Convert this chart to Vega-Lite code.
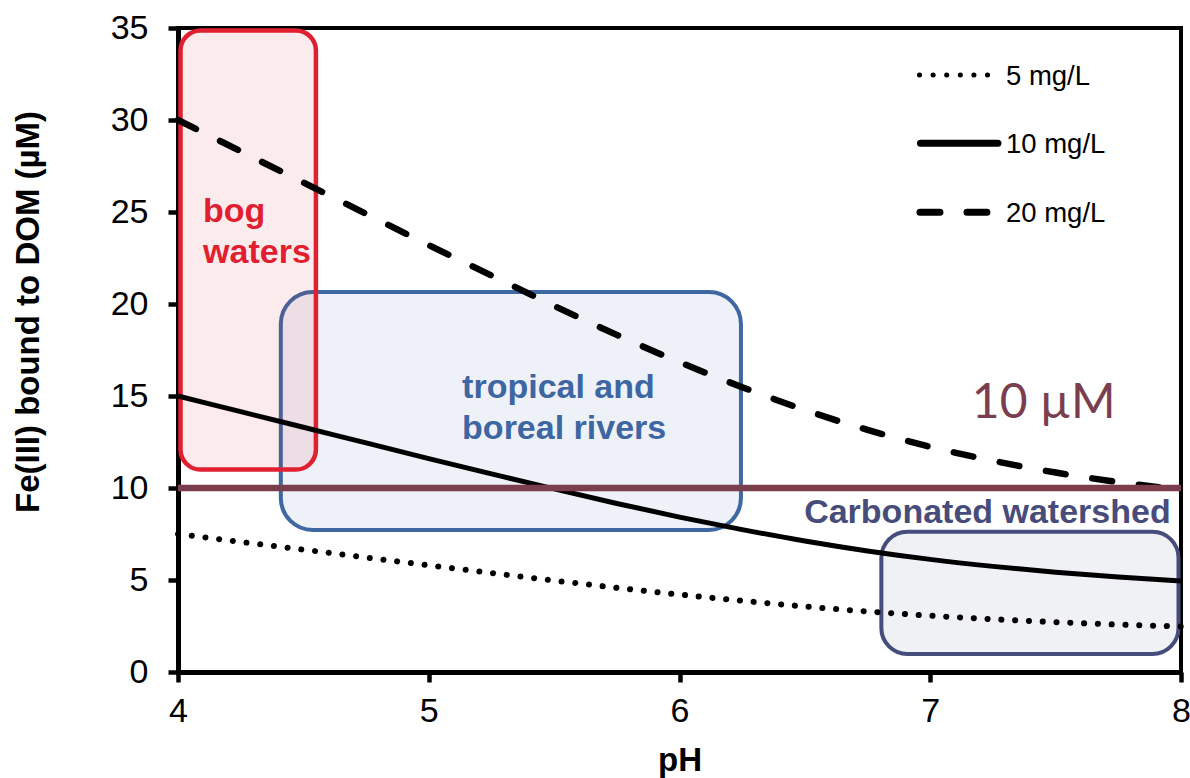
{
  "$schema": "https://vega.github.io/schema/vega-lite/v6.json",
  "width": 1003,
  "height": 644,
  "autosize": {"type": "none"},
  "padding": {"left": 178, "top": 28, "right": 9, "bottom": 106},
  "background": "white",
  "config": {
    "view": {"stroke": "black", "strokeWidth": 4},
    "axis": {
      "domainColor": "black", "domainWidth": 5, "tickColor": "black", "tickWidth": 4.5, "tickSize": 10,
      "grid": false, "labelFont": "Liberation Sans", "labelFontSize": 34, "labelColor": "black",
      "labelFlush": false, "labelOverlap": false, "titleFont": "Liberation Sans", "titleFontSize": 33,
      "titleFontWeight": "bold", "titleColor": "black"
    }
  },
  "datasets": {
    "boxes": [
      {"region": "bog", "x": 4.01, "x2": 4.55, "y": 34.86, "y2": 11.0},
      {"region": "tropical", "x": 4.41, "x2": 6.245, "y": 20.65, "y2": 7.72},
      {"region": "carbonated", "x": 6.805, "x2": 7.99, "y": 7.62, "y2": 0.98}
    ],
    "curves": [
      {"series": "5 mg/L", "x": 4.0, "y": 7.5},
      {"series": "5 mg/L", "x": 4.25, "y": 7.07},
      {"series": "5 mg/L", "x": 4.5, "y": 6.65},
      {"series": "5 mg/L", "x": 4.75, "y": 6.22},
      {"series": "5 mg/L", "x": 5.0, "y": 5.8},
      {"series": "5 mg/L", "x": 5.25, "y": 5.38},
      {"series": "5 mg/L", "x": 5.5, "y": 4.97},
      {"series": "5 mg/L", "x": 5.75, "y": 4.58},
      {"series": "5 mg/L", "x": 6.0, "y": 4.21},
      {"series": "5 mg/L", "x": 6.25, "y": 3.87},
      {"series": "5 mg/L", "x": 6.5, "y": 3.56},
      {"series": "5 mg/L", "x": 6.75, "y": 3.29},
      {"series": "5 mg/L", "x": 7.0, "y": 3.06},
      {"series": "5 mg/L", "x": 7.25, "y": 2.87},
      {"series": "5 mg/L", "x": 7.5, "y": 2.71},
      {"series": "5 mg/L", "x": 7.75, "y": 2.58},
      {"series": "5 mg/L", "x": 8.0, "y": 2.47},
      {"series": "10 mg/L", "x": 4.0, "y": 15.0},
      {"series": "10 mg/L", "x": 4.25, "y": 14.15},
      {"series": "10 mg/L", "x": 4.5, "y": 13.3},
      {"series": "10 mg/L", "x": 4.75, "y": 12.45},
      {"series": "10 mg/L", "x": 5.0, "y": 11.6},
      {"series": "10 mg/L", "x": 5.25, "y": 10.77},
      {"series": "10 mg/L", "x": 5.5, "y": 9.95},
      {"series": "10 mg/L", "x": 5.75, "y": 9.16},
      {"series": "10 mg/L", "x": 6.0, "y": 8.42},
      {"series": "10 mg/L", "x": 6.25, "y": 7.74},
      {"series": "10 mg/L", "x": 6.5, "y": 7.12},
      {"series": "10 mg/L", "x": 6.75, "y": 6.58},
      {"series": "10 mg/L", "x": 7.0, "y": 6.12},
      {"series": "10 mg/L", "x": 7.25, "y": 5.74},
      {"series": "10 mg/L", "x": 7.5, "y": 5.42},
      {"series": "10 mg/L", "x": 7.75, "y": 5.16},
      {"series": "10 mg/L", "x": 8.0, "y": 4.95},
      {"series": "20 mg/L", "x": 4.0, "y": 30.0},
      {"series": "20 mg/L", "x": 4.25, "y": 28.3},
      {"series": "20 mg/L", "x": 4.5, "y": 26.6},
      {"series": "20 mg/L", "x": 4.75, "y": 24.9},
      {"series": "20 mg/L", "x": 5.0, "y": 23.2},
      {"series": "20 mg/L", "x": 5.25, "y": 21.55},
      {"series": "20 mg/L", "x": 5.5, "y": 19.9},
      {"series": "20 mg/L", "x": 5.75, "y": 18.32},
      {"series": "20 mg/L", "x": 6.0, "y": 16.84},
      {"series": "20 mg/L", "x": 6.25, "y": 15.48},
      {"series": "20 mg/L", "x": 6.5, "y": 14.24},
      {"series": "20 mg/L", "x": 6.75, "y": 13.16},
      {"series": "20 mg/L", "x": 7.0, "y": 12.24},
      {"series": "20 mg/L", "x": 7.25, "y": 11.48},
      {"series": "20 mg/L", "x": 7.5, "y": 10.84},
      {"series": "20 mg/L", "x": 7.75, "y": 10.32},
      {"series": "20 mg/L", "x": 8.0, "y": 9.9}
    ],
    "legend": [
      {"series": "5 mg/L", "x": 6.957, "x2": 7.229, "y": 32.45, "lx": 7.302, "ly": 31.9},
      {"series": "10 mg/L", "x": 6.961, "x2": 7.27, "y": 28.73, "lx": 7.302, "ly": 28.19},
      {"series": "20 mg/L", "x": 6.959, "x2": 7.226, "y": 24.98, "lx": 7.302, "ly": 24.47}
    ]
  },
  "encoding": {
    "x": {
      "field": "x", "type": "quantitative", "title": "pH",
      "scale": {"domain": [4, 8], "nice": false, "zero": false},
      "axis": {"values": [4, 5, 6, 7, 8], "labelPadding": 12, "titleX": 501.5, "titleY": 98, "titleBaseline": "alphabetic", "titleAlign": "center"}
    },
    "y": {
      "field": "y", "type": "quantitative", "title": "Fe(III) bound to DOM (µM)",
      "scale": {"domain": [0, 35], "nice": false, "zero": false},
      "axis": {"values": [0, 5, 10, 15, 20, 25, 30, 35], "labelPadding": 20, "titleX": -140, "titleY": 283.5, "titleAngle": -90, "titleBaseline": "alphabetic", "titleAlign": "center"}
    }
  },
  "layer": [
    {
      "data": {"name": "boxes"},
      "transform": [{"filter": "datum.region === 'tropical'"}],
      "mark": {"type": "rect", "cornerRadius": 32, "fill": "#3f67a1", "fillOpacity": 0.09, "stroke": "#3f67a1", "strokeWidth": 4},
      "encoding": {"x2": {"field": "x2"}, "y2": {"field": "y2"}}
    },
    {
      "data": {"name": "boxes"},
      "transform": [{"filter": "datum.region === 'bog'"}],
      "mark": {"type": "rect", "cornerRadius": 20, "fill": "#e02030", "fillOpacity": 0.09, "stroke": "#e02030", "strokeWidth": 4.5},
      "encoding": {"x2": {"field": "x2"}, "y2": {"field": "y2"}}
    },
    {
      "data": {"name": "boxes"},
      "transform": [{"filter": "datum.region === 'carbonated'"}],
      "mark": {"type": "rect", "cornerRadius": 26, "fill": "#464c7c", "fillOpacity": 0.08, "stroke": "#464c7c", "strokeWidth": 4},
      "encoding": {"x2": {"field": "x2"}, "y2": {"field": "y2"}}
    },
    {
      "data": {"name": "curves"},
      "transform": [{"filter": "datum.series === '5 mg/L'"}],
      "mark": {"type": "line", "color": "black", "strokeWidth": 6, "strokeDash": [0.1, 13.7], "strokeCap": "round", "interpolate": "monotone"},
      "encoding": {}
    },
    {
      "data": {"name": "curves"},
      "transform": [{"filter": "datum.series === '10 mg/L'"}],
      "mark": {"type": "line", "color": "black", "strokeWidth": 5, "interpolate": "monotone"},
      "encoding": {}
    },
    {
      "data": {"name": "curves"},
      "transform": [{"filter": "datum.series === '20 mg/L'"}],
      "mark": {"type": "line", "color": "black", "strokeWidth": 6.5, "strokeDash": [20, 27], "strokeCap": "round", "interpolate": "monotone"},
      "encoding": {}
    },
    {
      "data": {"values": [{"x": 4, "x2": 8, "y": 10}]},
      "mark": {"type": "rule", "color": "#7b3e4e", "strokeWidth": 6.5},
      "encoding": {"x2": {"field": "x2"}}
    },
    {
      "data": {"name": "legend"},
      "transform": [{"filter": "datum.series === '5 mg/L'"}],
      "mark": {"type": "rule", "color": "black", "strokeWidth": 5, "strokeDash": [0.1, 13.5], "strokeCap": "round"},
      "encoding": {"x2": {"field": "x2"}}
    },
    {
      "data": {"name": "legend"},
      "transform": [{"filter": "datum.series === '10 mg/L'"}],
      "mark": {"type": "rule", "color": "black", "strokeWidth": 7, "strokeCap": "round"},
      "encoding": {"x2": {"field": "x2"}}
    },
    {
      "data": {"name": "legend"},
      "transform": [{"filter": "datum.series === '20 mg/L'"}],
      "mark": {"type": "rule", "color": "black", "strokeWidth": 7, "strokeDash": [20, 27], "strokeCap": "round"},
      "encoding": {"x2": {"field": "x2"}}
    },
    {
      "data": {"name": "legend"},
      "mark": {"type": "text", "font": "Liberation Sans", "fontSize": 27.5, "color": "black", "align": "left", "baseline": "alphabetic"},
      "encoding": {"x": {"field": "lx", "type": "quantitative"}, "y": {"field": "ly", "type": "quantitative"}, "text": {"field": "series"}}
    },
    {
      "data": {"values": [{"x": 4.1, "y": 24.47, "label": "bog"}, {"x": 4.1, "y": 22.21, "label": "waters"}]},
      "mark": {"type": "text", "font": "Liberation Sans", "fontWeight": "bold", "fontSize": 34, "color": "#e02030", "align": "left", "baseline": "alphabetic"},
      "encoding": {"text": {"field": "label"}}
    },
    {
      "data": {"values": [{"x": 5.133, "y": 14.87, "label": "tropical and"}, {"x": 5.133, "y": 12.65, "label": "boreal rivers"}]},
      "mark": {"type": "text", "font": "Liberation Sans", "fontWeight": "bold", "fontSize": 34, "color": "#3d66a2", "align": "left", "baseline": "alphabetic"},
      "encoding": {"text": {"field": "label"}}
    },
    {
      "data": {"values": [{"x": 7.228, "y": 8.08, "label": "Carbonated watershed"}]},
      "mark": {"type": "text", "font": "Liberation Sans", "fontWeight": "bold", "fontSize": 34, "color": "#474c7a", "align": "center", "baseline": "alphabetic"},
      "encoding": {"text": {"field": "label"}}
    },
    {
      "data": {"values": [{"x": 7.166, "y": 13.79, "label": "10 µM"}]},
      "mark": {"type": "text", "font": "Lato", "fontSize": 48, "color": "#7b3e4e", "align": "left", "baseline": "alphabetic"},
      "encoding": {"text": {"field": "label"}}
    }
  ]
}
